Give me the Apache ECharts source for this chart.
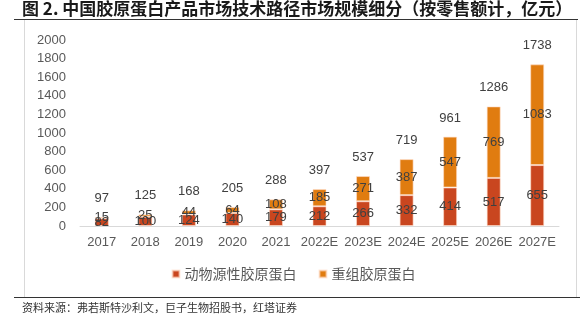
<!DOCTYPE html>
<html><head><meta charset="utf-8">
<script src="https://cdn.jsdelivr.net/npm/echarts@6/dist/echarts.min.js"></script>
<style>html,body{margin:0;padding:0;background:#fff;}#c{width:587px;height:333px;}</style>
</head><body><div id="c"></div>
<script>
const categories = ['2017','2018','2019','2020','2021','2022E','2023E','2024E','2025E','2026E','2027E'];
const animalValues = [82,100,124,140,179,212,266,332,414,517,655];
const recombValues = [15,25,44,64,108,185,271,387,547,769,1083];
const totalValues = [97,125,168,205,288,397,537,719,961,1286,1738];
const seriesNames = ['动物源性胶原蛋白','重组胶原蛋白'];
const titleText = '图 2. 中国胶原蛋白产品市场技术路径市场规模细分（按零售额计，亿元）';
const sourceText = '资料来源：弗若斯特沙利文，巨子生物招股书，红塔证券';

const chart = echarts.init(document.getElementById('c'), null, {renderer:'canvas'});
const labelFont = {fontFamily:'Liberation Sans, Arial, sans-serif', fontSize:13, color:'#404040'};
chart.setOption({
  animation:false,
  textStyle:{fontFamily:'Liberation Sans, Arial, sans-serif'},
  grid:{left:80, right:28, top:40, bottom:107},
  legend:{
    data:seriesNames, bottom:47, left:'center', itemWidth:7, itemHeight:7, itemGap:22,
    icon:'rect',
    textStyle:{fontFamily:'Noto Sans CJK SC', fontSize:14, color:'#595959'}
  },
  xAxis:{
    type:'category', data:categories,
    axisLine:{lineStyle:{color:'#d9d9d9'}}, axisTick:{show:false},
    axisLabel:{color:'#595959', fontSize:13, margin:10, interval:0}
  },
  yAxis:{
    type:'value', min:0, max:2000, interval:200,
    splitLine:{show:false}, axisLine:{show:false}, axisTick:{show:false},
    axisLabel:{color:'#595959', fontSize:13, margin:14, formatter:function(v){return String(v);}}
  },
  series:[
    {name:'total', type:'bar', data:totalValues, barWidth:14, barGap:'-100%', z:1,
     itemStyle:{color:'rgba(0,0,0,0)'}, silent:true,
     label:{show:true, position:'top', distance:12, ...labelFont}},
    {name:seriesNames[0], type:'bar', stack:'s', data:animalValues, barWidth:14, z:2,
     itemStyle:{color:'#C9461F', borderColor:'rgba(255,220,200,0.6)', borderWidth:1},
     label:{show:true, position:'inside', ...labelFont}},
    {name:seriesNames[1], type:'bar', stack:'s', data:recombValues, barWidth:14, z:2,
     itemStyle:{color:'#E07C10', borderColor:'rgba(255,220,200,0.6)', borderWidth:1},
     label:{show:true, position:'inside', ...labelFont}}
  ],
  graphic:[
    {type:'text', left:22, top:0, style:{text:titleText, font:'bold 17px "Noto Sans CJK SC"', fill:'#1a1a1a'}},
    {type:'line', shape:{x1:14, y1:19.5, x2:578, y2:19.5}, style:{stroke:'#333', lineWidth:1.2}},
    {type:'line', shape:{x1:24.5, y1:20, x2:24.5, y2:297}, style:{stroke:'#d9d9d9', lineWidth:1}},
    {type:'line', shape:{x1:576.5, y1:20, x2:576.5, y2:297}, style:{stroke:'#d9d9d9', lineWidth:1}},
    {type:'line', shape:{x1:14, y1:297.5, x2:580, y2:297.5}, style:{stroke:'#333', lineWidth:1.2}},
    {type:'text', left:22, top:302, style:{text:sourceText, font:'11px "Noto Sans CJK SC"', fill:'#333'}}
  ]
});
</script></body></html>
